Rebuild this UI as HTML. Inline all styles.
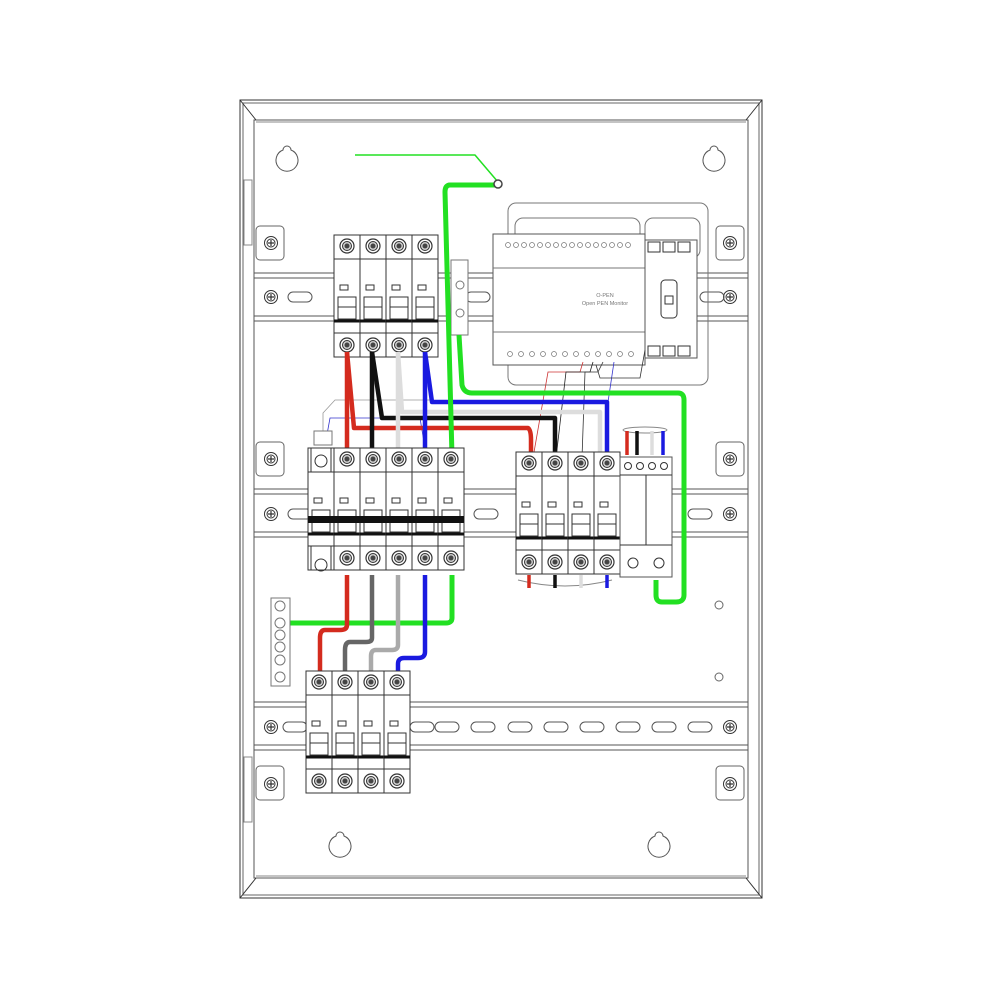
<!DOCTYPE html>
<html><head><style>html,body{margin:0;padding:0;background:#fff}svg{display:block}</style></head>
<body>
<svg width="1000" height="1000" viewBox="0 0 1000 1000" xmlns="http://www.w3.org/2000/svg" fill="none" stroke="#333" stroke-width="1">
<defs>
  <g id="scr"><circle r="6.5" fill="#fff"/><circle r="4" /><path d="M-3 0H3M0 -3V3" stroke-width="1.2"/></g>
  <g id="term"><circle r="7" fill="#fff" stroke-width="1.2"/><circle r="4.5" fill="#ccc"/><circle r="2.5" fill="#444" stroke="none"/></g>
  <g id="pole">
    <rect x="0" y="0" width="26" height="122" fill="#fff"/>
    <line x1="0" y1="24" x2="26" y2="24"/>
    <line x1="0" y1="98" x2="26" y2="98"/>
    <use href="#term" x="13" y="11"/>
    <use href="#term" x="13" y="110"/>
    <rect x="6" y="50" width="8" height="5"/>
    <rect x="4" y="62" width="18" height="22"/>
    <line x1="4" y1="72" x2="22" y2="72"/>
    <line x1="0" y1="86" x2="26" y2="86" stroke-width="3" stroke="#111"/>
  </g>
  <g id="slot"><rect x="-12" y="-5" width="24" height="10" rx="5"/></g>
</defs>

<!-- enclosure -->
<rect x="240" y="100" width="522" height="798" />
<rect x="243" y="103" width="516" height="792" stroke="#666"/>
<rect x="254" y="120" width="494" height="758" stroke="#555"/>
<path d="M240 100 L256 120 M762 100 L746 120 M240 898 L256 878 M762 898 L746 878" />
<line x1="256" y1="122" x2="746" y2="122" stroke="#888"/>
<line x1="256" y1="876" x2="746" y2="876" stroke="#888"/>
<rect x="244" y="180" width="8" height="65" stroke="#888"/>
<rect x="244" y="757" width="8" height="65" stroke="#888"/>

<!-- keyholes -->
<g stroke="#555">
<path d="M283 155 a4 4 0 1 1 8 0 a11 11 0 1 1 -8 0z" transform="translate(0,-5)"/>
<path d="M710 155 a4 4 0 1 1 8 0 a11 11 0 1 1 -8 0z" transform="translate(0,-5)"/>
<path d="M336 836 a4 4 0 1 1 8 0 a11 11 0 1 1 -8 0z"/>
<path d="M655 836 a4 4 0 1 1 8 0 a11 11 0 1 1 -8 0z"/>
</g>

<!-- mounting tabs & screws -->
<g stroke="#666">
<rect x="256" y="226" width="28" height="34" rx="4"/><rect x="716" y="226" width="28" height="34" rx="4"/>
<rect x="256" y="442" width="28" height="34" rx="4"/><rect x="716" y="442" width="28" height="34" rx="4"/>
<rect x="256" y="766" width="28" height="34" rx="4"/><rect x="716" y="766" width="28" height="34" rx="4"/>
</g>
<use href="#scr" x="271" y="243"/><use href="#scr" x="730" y="243"/>
<use href="#scr" x="271" y="459"/><use href="#scr" x="730" y="459"/>
<use href="#scr" x="271" y="784"/><use href="#scr" x="730" y="784"/>

<!-- DIN rails -->
<g stroke="#555">
<rect x="254" y="273" width="494" height="48" fill="#fff"/>
<line x1="254" y1="278" x2="748" y2="278"/><line x1="254" y1="316" x2="748" y2="316"/>
<rect x="254" y="489" width="494" height="48" fill="#fff"/>
<line x1="254" y1="494" x2="748" y2="494"/><line x1="254" y1="532" x2="748" y2="532"/>
<rect x="254" y="702" width="494" height="48" fill="#fff"/>
<line x1="254" y1="707" x2="748" y2="707"/><line x1="254" y1="745" x2="748" y2="745"/>
</g>
<use href="#scr" x="271" y="297"/><use href="#scr" x="730" y="297"/>
<use href="#scr" x="271" y="514"/><use href="#scr" x="730" y="514"/>
<use href="#scr" x="271" y="727"/><use href="#scr" x="730" y="727"/>
<g stroke="#555">
<use href="#slot" x="300" y="297"/><use href="#slot" x="478" y="297"/><use href="#slot" x="712" y="297"/>
<use href="#slot" x="300" y="514"/><use href="#slot" x="486" y="514"/><use href="#slot" x="700" y="514"/>
<use href="#slot" x="295" y="727"/><use href="#slot" x="422" y="727"/><use href="#slot" x="447" y="727"/><use href="#slot" x="483" y="727"/><use href="#slot" x="520" y="727"/><use href="#slot" x="556" y="727"/><use href="#slot" x="592" y="727"/><use href="#slot" x="628" y="727"/><use href="#slot" x="664" y="727"/><use href="#slot" x="700" y="727"/>
</g>
<circle cx="719" cy="605" r="4" stroke="#666"/><circle cx="719" cy="677" r="4" stroke="#666"/>

<!-- monitor bracket -->
<g stroke="#777">
<rect x="508" y="203" width="200" height="182" rx="8"/>
<rect x="515" y="218" width="125" height="40" rx="8"/>
<rect x="645" y="218" width="55" height="40" rx="8"/>
</g>
<!-- monitor -->
<rect x="493" y="234" width="152" height="131" fill="#fff" stroke="#555"/>
<line x1="493" y1="268" x2="645" y2="268" stroke="#777"/>
<line x1="493" y1="332" x2="645" y2="332" stroke="#777"/>
<g stroke="#777" stroke-width="0.7">
<circle cx="508" cy="245" r="2.5"/><circle cx="516" cy="245" r="2.5"/><circle cx="524" cy="245" r="2.5"/><circle cx="532" cy="245" r="2.5"/><circle cx="540" cy="245" r="2.5"/><circle cx="548" cy="245" r="2.5"/><circle cx="556" cy="245" r="2.5"/><circle cx="564" cy="245" r="2.5"/><circle cx="572" cy="245" r="2.5"/><circle cx="580" cy="245" r="2.5"/><circle cx="588" cy="245" r="2.5"/><circle cx="596" cy="245" r="2.5"/><circle cx="604" cy="245" r="2.5"/><circle cx="612" cy="245" r="2.5"/><circle cx="620" cy="245" r="2.5"/><circle cx="628" cy="245" r="2.5"/>
<circle cx="510" cy="354" r="2.5"/><circle cx="521" cy="354" r="2.5"/><circle cx="532" cy="354" r="2.5"/><circle cx="543" cy="354" r="2.5"/><circle cx="554" cy="354" r="2.5"/><circle cx="565" cy="354" r="2.5"/><circle cx="576" cy="354" r="2.5"/><circle cx="587" cy="354" r="2.5"/><circle cx="598" cy="354" r="2.5"/><circle cx="609" cy="354" r="2.5"/><circle cx="620" cy="354" r="2.5"/><circle cx="631" cy="354" r="2.5"/>
</g>
<text x="605" y="297" font-family="Liberation Sans, sans-serif" font-size="5.5" fill="#777" stroke="none" text-anchor="middle">O-PEN</text>
<text x="605" y="305" font-family="Liberation Sans, sans-serif" font-size="5.5" fill="#777" stroke="none" text-anchor="middle">Open PEN Monitor</text>
<!-- side module -->
<rect x="645" y="240" width="52" height="118" fill="#fff" stroke="#555"/>
<rect x="648" y="242" width="12" height="10"/><rect x="663" y="242" width="12" height="10"/><rect x="678" y="242" width="12" height="10"/>
<rect x="648" y="346" width="12" height="10"/><rect x="663" y="346" width="12" height="10"/><rect x="678" y="346" width="12" height="10"/>
<rect x="661" y="280" width="16" height="38" rx="4"/><rect x="665" y="296" width="8" height="8"/>

<!-- small grey terminal -->
<rect x="451" y="260" width="17" height="75" fill="#fff" stroke="#777"/>
<circle cx="460" cy="285" r="4" stroke="#777"/><circle cx="460" cy="313" r="4" stroke="#777"/>

<!-- top 4-pole breaker -->
<g transform="translate(334,235)">
<use href="#pole" x="0"/><use href="#pole" x="26"/><use href="#pole" x="52"/><use href="#pole" x="78"/>
</g>

<!-- thin control wires -->
<g stroke-width="0.8" fill="none">
<path d="M583 362 L580 372 L548 372 L533 458" stroke="#c33"/>
<path d="M593 362 L590 372 L566 372 L556 458" stroke="#222"/>
<path d="M603 362 L598 372 L585 372 L582 458" stroke="#333"/>
<path d="M614 362 L608 402" stroke="#33c"/>
<path d="M645 350 L640 378 L600 378 L596 365" stroke="#333"/>
<path d="M323 440 L323 413 L335 400 L432 400" stroke="#999"/>
<path d="M326 440 L330 418 L420 418 L425 448" stroke="#33c"/>
</g>

<!-- thick wires top -->
<g stroke-width="4.5" fill="none" stroke-linejoin="round">
<path d="M398 352 L402 412 L600 412 L600 458" stroke="#ddd"/>
<path d="M347 352 L347 450" stroke="#d42b1e"/>
<path d="M347 352 L354 428 L528 428 Q531 430 531 440 L531 458" stroke="#d42b1e"/>
<path d="M372 352 L372 450" stroke="#111"/>
<path d="M372 352 L382 418 L555 418 L555 458" stroke="#111"/>
<path d="M398 352 L398 450" stroke="#ddd"/>
<path d="M425 352 L425 450" stroke="#1a1ae0"/>
<path d="M425 352 L432 402 L607 402 L607 458" stroke="#1a1ae0"/>
</g>
<!-- green wires -->
<g stroke="#22e022" fill="none" stroke-linejoin="round">
<path d="M355 155 L475 155 L498 182" stroke-width="1.5"/>
<path d="M496 185 L450 185 Q445 185 445 192 L452 456" stroke-width="5"/>
<path d="M459 335 L462 385 Q464 393 472 393 L678 393 Q684 393 684 400 L684 595 Q684 602 676 602 L662 602 Q656 602 656 595 L656 580" stroke-width="5"/>
<path d="M452 575 L452 618 Q452 623 446 623 L290 623" stroke-width="5"/>
</g>
<circle cx="498" cy="184" r="4" stroke="#444" stroke-width="1.5" fill="#fff"/>

<!-- middle left 6-pole -->
<g transform="translate(308,448)">
<use href="#pole" x="0"/><use href="#pole" x="26"/><use href="#pole" x="52"/><use href="#pole" x="78"/><use href="#pole" x="104"/><use href="#pole" x="130"/>
<rect x="0" y="68" width="156" height="7" fill="#111" stroke="none"/>
<rect x="3" y="0" width="20" height="24" fill="#fff"/><circle cx="13" cy="13" r="6"/>
<rect x="3" y="98" width="20" height="24" fill="#fff"/><circle cx="13" cy="117" r="6"/>
</g>
<rect x="314" y="431" width="18" height="14" fill="#fff" stroke="#777"/>

<!-- middle right 4-pole + SPD -->
<g transform="translate(516,452)">
<use href="#pole" x="0"/><use href="#pole" x="26"/><use href="#pole" x="52"/><use href="#pole" x="78"/>
</g>
<path d="M518 580 Q565 592 612 580" stroke="#888"/>
<rect x="620" y="457" width="52" height="120" fill="#fff" stroke="#555"/>
<line x1="620" y1="475" x2="672" y2="475"/><line x1="620" y1="545" x2="672" y2="545"/>
<line x1="646" y1="475" x2="646" y2="545"/>
<circle cx="628" cy="466" r="3.5"/><circle cx="640" cy="466" r="3.5"/><circle cx="652" cy="466" r="3.5"/><circle cx="664" cy="466" r="3.5"/>
<circle cx="633" cy="563" r="5"/><circle cx="659" cy="563" r="5"/>
<ellipse cx="645" cy="430" rx="22" ry="3" stroke="#888"/>
<g stroke-width="3.5"><path d="M627 431 V455" stroke="#d42b1e"/><path d="M637 431 V455" stroke="#111"/><path d="M652 431 V455" stroke="#ddd"/><path d="M663 431 V455" stroke="#1a1ae0"/></g>
<g stroke-width="3.5"><path d="M529 575 V588" stroke="#d42b1e"/><path d="M555 575 V588" stroke="#111"/><path d="M581 575 V588" stroke="#ddd"/><path d="M607 575 V588" stroke="#1a1ae0"/></g>

<!-- ground bar -->
<rect x="271" y="598" width="19" height="88" fill="#fff" stroke="#777"/>
<circle cx="280" cy="606" r="5" stroke="#777"/><circle cx="280" cy="623" r="5" stroke="#777"/><circle cx="280" cy="635" r="5" stroke="#777"/><circle cx="280" cy="647" r="5" stroke="#777"/><circle cx="280" cy="660" r="5" stroke="#777"/><circle cx="280" cy="677" r="5" stroke="#777"/>

<!-- bottom wires -->
<g stroke-width="4.5" fill="none" stroke-linejoin="round">
<path d="M347 575 L347 625 Q347 630 340 630 L325 630 Q320 630 320 638 L320 674" stroke="#d42b1e"/>
<path d="M372 575 L372 638 Q372 642 366 642 L350 642 Q345 642 345 650 L345 674" stroke="#666"/>
<path d="M398 575 L398 645 Q398 650 392 650 L376 650 Q371 650 371 656 L371 674" stroke="#aaa"/>
<path d="M425 575 L425 652 Q425 658 418 658 L404 658 Q398 658 398 664 L398 674" stroke="#1a1ae0"/>
</g>

<!-- bottom 4-pole -->
<g transform="translate(306,671)">
<use href="#pole" x="0"/><use href="#pole" x="26"/><use href="#pole" x="52"/><use href="#pole" x="78"/>
</g>
</svg>
</body></html>
